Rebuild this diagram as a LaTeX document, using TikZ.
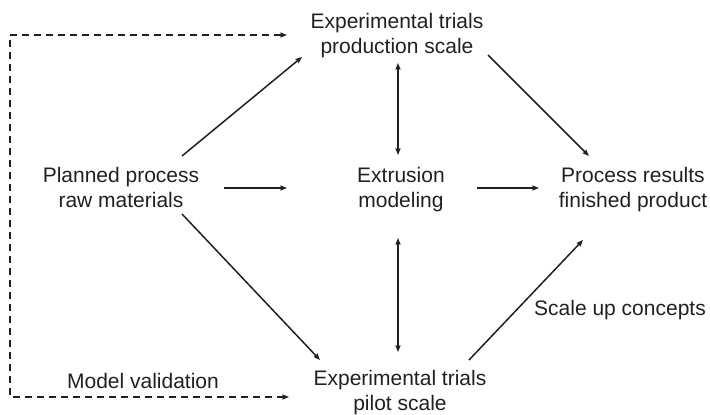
\documentclass[tikz,border=0pt]{standalone}
\usepackage{fontspec}
\setmainfont{Liberation Sans}
\usetikzlibrary{arrows.meta}
\definecolor{ink}{RGB}{35,31,32}
\begin{document}
\begin{tikzpicture}[x=1pt,y=-1pt,
  lbl/.style={font=\fontsize{21}{25}\selectfont, text=ink, align=center, inner sep=0pt, anchor=base},
  tip/.tip={Stealth[length=6.5pt,width=5pt,inset=0.6pt]},
  arr/.style={draw=ink, line width=1.5pt, -tip},
  biarr/.style={draw=ink, line width=1.5pt, tip-tip},
  dsh/.style={draw=ink, line width=1.5pt, dash pattern=on 7pt off 5pt, tip-tip}]
  \useasboundingbox (0,0) rectangle (710,415);

  % stages of the workflow (placed at the baseline of their last line)
  \node[lbl] (prod)  at (397,53.5)  {Experimental trials\\production scale};
  \node[lbl] (pilot) at (400,410.5) {Experimental trials\\pilot scale};
  \node[lbl] (plan)  at (121,207.5) {Planned process\\raw materials};
  \node[lbl] (ext)   at (401,207.5) {Extrusion\\modeling};
  \node[lbl] (res)   at (633,207.5) {Process results\\finished product};

  % annotations
  \node[lbl] (scale) at (620,315) {Scale up concepts};
  \node[lbl] (valid) at (143,388) {Model validation};

  % connectors
  \draw[arr] ([shift={(61,-51.5)}]plan.base) -- ([shift={(-95,3.5)}]prod.base);
  \draw[arr] ([shift={(103,-19.5)}]plan.base) -- ([shift={(-114,-19.5)}]ext.base);
  \draw[arr] ([shift={(61,6.5)}]plan.base) -- ([shift={(-80,-50.5)}]pilot.base);
  \draw[biarr] ([shift={(-3,-52.5)}]ext.base) -- ([shift={(1,9.5)}]prod.base);
  \draw[biarr] ([shift={(-3,30.5)}]ext.base) -- ([shift={(-2,-58.5)}]pilot.base);
  \draw[arr] ([shift={(76,-19.5)}]ext.base) -- ([shift={(-94,-19.5)}]res.base);
  \draw[arr] ([shift={(91,1.5)}]prod.base) -- ([shift={(-44,-51.5)}]res.base);
  \draw[arr] ([shift={(69,-50.5)}]pilot.base) -- ([shift={(-50,32.5)}]res.base);

  % validation loop
  \draw[dsh] ([shift={(-110,-18.5)}]prod.base) -- ++(-277,0) |- ([shift={(-111,-13.5)}]pilot.base);
\end{tikzpicture}
\end{document}
